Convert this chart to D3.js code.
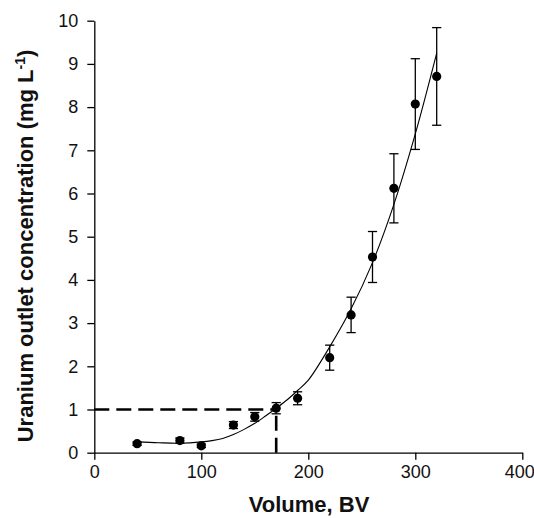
<!DOCTYPE html>
<html>
<head>
<meta charset="utf-8">
<script src="https://cdn.jsdelivr.net/npm/d3@7"></script>
<style>
  html, body { margin: 0; padding: 0; background: #fff; }
  svg { display: block; font-family: "Liberation Sans", Arial, sans-serif; }
</style>
</head>
<body>
<svg id="chart" width="534" height="518"></svg>
<script>
// Measured breakthrough data: bed volumes vs. uranium outlet concentration (mg/L)
const volume = [40, 80, 100, 130, 150, 170, 190, 220, 240, 260, 280, 300, 320];
const concentration = [0.21, 0.28, 0.16, 0.64, 0.83, 1.03, 1.26, 2.20, 3.19, 4.53, 6.12, 8.07, 8.71];
const errorBar = [0.04, 0.06, 0.04, 0.08, 0.10, 0.13, 0.15, 0.29, 0.41, 0.59, 0.80, 1.05, 1.13];

// Fitted trend line
const fitVolume = [40, 60, 80, 100, 110, 120, 130, 140, 150, 160, 170, 180, 190, 200, 220, 240, 260, 280, 300, 320];
const fitConc = [0.25, 0.23, 0.22, 0.25, 0.28, 0.33, 0.42, 0.54, 0.68, 0.85, 1.03, 1.22, 1.44, 1.68, 2.45, 3.33, 4.40, 5.75, 7.38, 9.25];

// Threshold guide (1 mg/L reached at 170 BV)
const thresholdConc = 1;
const thresholdVolume = 170;

// Axis ticks
const xTicks = [0, 100, 200, 300, 400];
const yTicks = [0, 1, 2, 3, 4, 5, 6, 7, 8, 9, 10];

const svg = d3.select("#chart");
const x = d3.scaleLinear().domain([0, 400]).range([94.3, 522.3]);
const y = d3.scaleLinear().domain([0, 10]).range([452.7, 20.7]);

// Axes
const xAxis = svg.append("g")
  .attr("transform", `translate(0,${y(0)})`)
  .call(d3.axisBottom(x).tickValues(xTicks).tickSize(7).tickSizeOuter(0).tickPadding(6));
const yAxis = svg.append("g")
  .attr("transform", `translate(${x(0)},0)`)
  .call(d3.axisLeft(y).tickValues(yTicks).tickSize(7).tickSizeOuter(0).tickPadding(9));

[xAxis, yAxis].forEach(g => {
  g.select(".domain").attr("stroke", "#000").attr("stroke-width", 1.3);
  g.selectAll(".tick line").attr("stroke", "#000").attr("stroke-width", 1.3);
  g.selectAll(".tick text").attr("fill", "#111").attr("font-size", 18)
    .attr("font-family", "'Liberation Sans', Arial, sans-serif");
});
// keep the last x label inside the right edge
xAxis.selectAll(".tick text").filter(d => d === 400).attr("dx", -3);

// Dashed threshold lines
svg.append("line")
  .attr("x1", x(0)).attr("x2", x(thresholdVolume))
  .attr("y1", y(thresholdConc)).attr("y2", y(thresholdConc))
  .attr("stroke", "#000").attr("stroke-width", 2.6).attr("stroke-dasharray", "15,7");
svg.append("line")
  .attr("x1", x(thresholdVolume)).attr("x2", x(thresholdVolume))
  .attr("y1", y(0)).attr("y2", y(thresholdConc))
  .attr("stroke", "#000").attr("stroke-width", 2.6).attr("stroke-dasharray", "15,7");

// Fitted curve
const fitData = fitVolume.map((v, i) => [v, fitConc[i]]);
svg.append("path")
  .datum(fitData)
  .attr("fill", "none")
  .attr("stroke", "#000")
  .attr("stroke-width", 1.1)
  .attr("d", d3.line().x(d => x(d[0])).y(d => y(d[1])).curve(d3.curveCatmullRom.alpha(0.5)));

// Error bars
const pts = volume.map((v, i) => ({ v, c: concentration[i], e: errorBar[i] }));
const eb = svg.append("g").attr("stroke", "#000").attr("stroke-width", 1.3);
const capHalf = 4.6;
pts.forEach(p => {
  eb.append("line").attr("x1", x(p.v)).attr("x2", x(p.v)).attr("y1", y(p.c - p.e)).attr("y2", y(p.c + p.e));
  eb.append("line").attr("x1", x(p.v) - capHalf).attr("x2", x(p.v) + capHalf).attr("y1", y(p.c + p.e)).attr("y2", y(p.c + p.e));
  eb.append("line").attr("x1", x(p.v) - capHalf).attr("x2", x(p.v) + capHalf).attr("y1", y(p.c - p.e)).attr("y2", y(p.c - p.e));
});

// Data points
svg.append("g").selectAll("circle")
  .data(pts)
  .join("circle")
  .attr("cx", d => x(d.v))
  .attr("cy", d => y(d.c))
  .attr("r", 4.6)
  .attr("fill", "#000");

// Axis titles
svg.append("text")
  .attr("x", 309).attr("y", 512)
  .attr("text-anchor", "middle")
  .attr("font-size", 22).attr("font-weight", "bold").attr("fill", "#111")
  .text("Volume, BV");

const yTitle = svg.append("text")
  .attr("transform", "translate(33,246) rotate(-90)")
  .attr("text-anchor", "middle")
  .attr("font-size", 22).attr("font-weight", "bold").attr("fill", "#111");
yTitle.append("tspan").text("Uranium outlet concentration (mg L");
yTitle.append("tspan").attr("font-size", 14).attr("dy", -8).text("-1");
yTitle.append("tspan").attr("dy", 8).text(")");
</script>
</body>
</html>
